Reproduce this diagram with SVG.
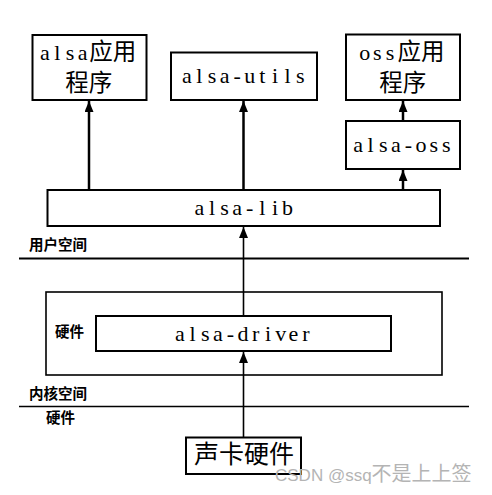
<svg xmlns="http://www.w3.org/2000/svg" width="492" height="495" viewBox="0 0 492 495">
<style>
.box{fill:#fff;stroke:#000;stroke-width:2}
.t{font-family:"Liberation Serif",serif;font-size:22px;fill:#000}
.c{font-family:"Noto Sans CJK SC",sans-serif;font-size:23.5px;fill:#000}
.lab{font-family:"Noto Sans CJK SC",sans-serif;font-size:14.5px;font-weight:bold;fill:#000}
.sep{stroke:#000}
.thick{stroke:#000;stroke-width:2.5;fill:none}
.thin{stroke:#000;stroke-width:1.6;fill:none}
</style>
<defs>
<marker id="ah2" viewBox="0 0 11 9" refX="11" refY="4.5" markerWidth="11" markerHeight="9" markerUnits="userSpaceOnUse" orient="auto">
<path d="M0,0 L11,4.5 L0,9 z" fill="#000"/>
</marker>
</defs>
<rect width="492" height="495" fill="#fff"/>
<g id="layers">
<line class="sep" x1="19" y1="258.5" x2="469" y2="258.5" stroke-width="2"/>
<line class="sep" x1="19" y1="406.5" x2="469" y2="406.5" stroke-width="1.6"/>
<text class="lab" x="29" y="250">用户空间</text>
<text class="lab" x="29" y="399">内核空间</text>
<text class="lab" x="46" y="423">硬件</text>
</g>
<g id="kernel">
<rect x="46" y="292" width="396" height="83" fill="none" stroke="#000" stroke-width="1.6"/>
<text class="lab" x="55" y="337">硬件</text>
</g>
<g id="connectors">
<line class="thick" x1="89" y1="190" x2="89" y2="101" marker-end="url(#ah2)"/>
<line class="thick" x1="243.5" y1="190" x2="243.5" y2="101" marker-end="url(#ah2)"/>
<line class="thick" x1="403" y1="190" x2="403" y2="170" marker-end="url(#ah2)"/>
<line class="thick" x1="403" y1="121" x2="403" y2="101" marker-end="url(#ah2)"/>
<line class="thin" x1="243.5" y1="316" x2="243.5" y2="227" marker-end="url(#ah2)"/>
<line class="thin" x1="243.5" y1="437" x2="243.5" y2="352" marker-end="url(#ah2)"/>
</g>
<g id="alsa-app">
<rect class="box" x="32.5" y="35" width="114" height="65"/>
<text y="60"><tspan class="t" x="39.9 54.3 65.7 77.7">alsa</tspan><tspan class="c" x="89.3">应用</tspan></text>
<text class="c" x="88.7" y="91" text-anchor="middle">程序</text>
</g>
<g id="alsa-utils">
<rect class="box" x="171" y="52.5" width="146" height="47.5"/>
<text class="t" y="83" x="181.9 196.3 207.7 219.7 233.5 244.3 259.3 271.9 284.5 295.9">alsa-utils</text>
</g>
<g id="oss-app">
<rect class="box" x="346" y="34.5" width="114" height="65.5"/>
<text y="60"><tspan class="t" x="359.3 373.1 385.7">oss</tspan><tspan class="c" x="397.5">应用</tspan></text>
<text class="c" x="402.7" y="91" text-anchor="middle">程序</text>
</g>
<g id="alsa-oss">
<rect class="box" x="346" y="121" width="114" height="48"/>
<text class="t" y="152" x="353.2 367.6 379.0 391.0 404.8 415.6 429.4 442.0">alsa-oss</text>
</g>
<g id="alsa-lib">
<rect class="box" x="47.5" y="190" width="392.5" height="36" stroke-width="1.6"/>
<text class="t" y="215" x="194.5 208.9 220.3 232.3 246.1 259.3 271.9 282.1">alsa-lib</text>
</g>
<g id="alsa-driver">
<rect class="box" x="96" y="316" width="295" height="35" stroke-width="1.6"/>
<text class="t" y="341" x="175.1 189.5 200.9 212.9 226.7 237.5 251.9 265.1 275.3 288.5 302.3">alsa-driver</text>
</g>
<g id="sound-card">
<rect class="box" x="186" y="437.5" width="115" height="36.5"/>
<text class="c" x="244" y="463" text-anchor="middle" style="font-size:25px">声卡硬件</text>
</g>
<text x="275" y="481" font-family="Liberation Sans, Arial, sans-serif" font-size="17" fill="#b4b4b4">CSDN @ssq<tspan font-family="Noto Sans CJK SC, sans-serif" font-size="20">不是上上签</tspan></text>
</svg>
